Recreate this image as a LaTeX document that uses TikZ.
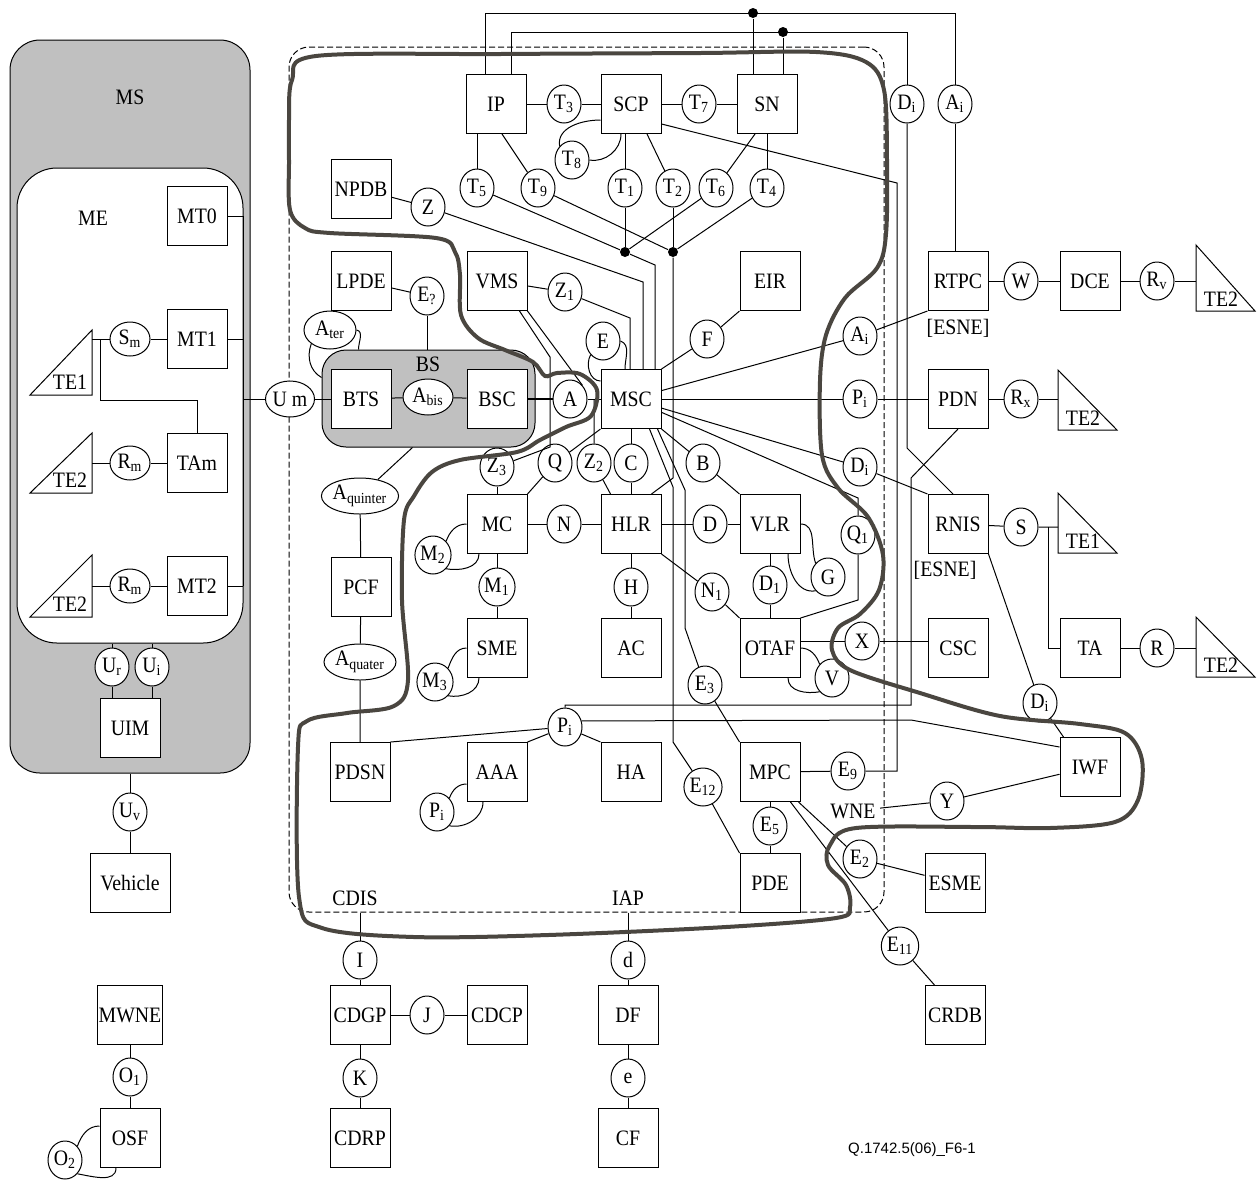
\documentclass[tikz,border=0pt]{standalone}
\usepackage{fontspec}
\setmainfont{Liberation Serif}[FakeStretch=0.9]
\newfontfamily\codefont{Liberation Sans}
\usepackage{tikz}
\usetikzlibrary{positioning, shapes.geometric, calc}
\definecolor{msgray}{HTML}{C0C0C0}
\definecolor{loopdark}{HTML}{4A4640}

\begin{document}
\begin{tikzpicture}[
    x=0.5pt, y=-0.5pt,
    line width=0.5pt,
    every node/.style={font=\fontsize{11}{12}\selectfont},
    grp/.style={draw, rounded corners=#1, inner sep=0pt},
    fe/.style={draw, fill=white, minimum width=30pt, minimum height=29.5pt, inner sep=0.5pt},
    ifc/.style={draw, fill=white, ellipse, minimum width=17pt, minimum height=19pt, inner sep=0pt},
    oval/.style={draw, fill=white, ellipse, minimum height=18pt, inner sep=0pt},
    lbl/.style={inner sep=0pt},
    junction/.style={fill, circle, inner sep=0pt, minimum size=5pt},
    boundary/.style={draw=loopdark, line width=2pt, line join=round},
  ]
  \useasboundingbox (0,0) rectangle (1259,1180);

  % domains
  \node[grp=15pt, fill=msgray, minimum width=120pt, minimum height=366.5pt] (MS) at (130,406.5) {};
  \node[grp=20pt, fill=white, minimum width=113pt, minimum height=237.5pt] (ME) at (130,405.5) {};
  \node[grp=10pt, dashed, dash pattern=on 3pt off 1.5pt, minimum width=297.5pt, minimum height=432.5pt] (core) at (586.5,479.5) {};
  \node[grp=12pt, fill=msgray, minimum width=106.5pt, minimum height=48.5pt] (BS) at (428.5,398.5) {};
  \node[lbl] (msLbl) at (130,97) {MS};
  \node[lbl] (meLbl) at (93,218) {ME};
  \node[lbl] (bsLbl) at (428,364) {BS};

  % mobile station
  \node[fe] (MT0) at (197,216) {MT0};
  \node[fe] (MT1) at (197,339) {MT1};
  \node[fe] (TAm) at (197,463) {TAm};
  \node[fe] (MT2) at (197,586) {MT2};
  \node[ifc, minimum width=20pt, minimum height=17pt] (Sm) at (130,339) {S\textsubscript{m}};
  \node[ifc, minimum width=20pt, minimum height=17pt] (Rm1) at (130,463) {R\textsubscript{m}};
  \node[ifc, minimum width=20pt, minimum height=17pt] (Rm2) at (130,586) {R\textsubscript{m}};
  \draw[fill=white] (30,395) -- (92,395) -- (92,330) -- cycle;
  \node[lbl] (te1mL) at (70,382) {TE1};
  \coordinate (te1m) at (92,339);
  \draw[fill=white] (30,493) -- (92,493) -- (92,433) -- cycle;
  \node[lbl] (te2mL) at (70,480) {TE2};
  \coordinate (te2m) at (92,463);
  \draw[fill=white] (30,617) -- (92,617) -- (92,555) -- cycle;
  \node[lbl] (te2nL) at (70,604) {TE2};
  \coordinate (te2n) at (92,586);
  \node[ifc] (Ur) at (112,667) {U\textsubscript{r}};
  \node[ifc] (Ui) at (152,667) {U\textsubscript{i}};
  \node[fe] (UIM) at (130,728) {UIM};
  \node[oval, minimum width=23pt] (Um) at (290,399) {U m};
  \node[ifc] (Uv) at (130,812) {U\textsubscript{v}};
  \node[fe, minimum width=40pt] (Vehicle) at (130,883) {Vehicle};
  \node[fe] (MWNE) at (130,1015) {MWNE};
  \node[ifc] (O1) at (130,1077) {O\textsubscript{1}};
  \node[fe] (OSF) at (130,1138) {OSF};
  \node[ifc] (O2) at (65,1160) {O\textsubscript{2}};

  % service and intelligent network part
  \node[fe] (IP) at (496,104) {IP};
  \node[ifc] (T3) at (564,104) {T\textsubscript{3}};
  \node[fe] (SCP) at (631,104) {SCP};
  \node[ifc] (T7) at (699,104) {T\textsubscript{7}};
  \node[fe] (SN) at (767,104) {SN};
  \node[ifc] (T8) at (572,160) {T\textsubscript{8}};
  \node[ifc] (T5) at (477,188) {T\textsubscript{5}};
  \node[ifc] (T9) at (538,188) {T\textsubscript{9}};
  \node[ifc] (T1) at (625,188) {T\textsubscript{1}};
  \node[ifc] (T2) at (673,188) {T\textsubscript{2}};
  \node[ifc] (T6) at (716,188) {T\textsubscript{6}};
  \node[ifc] (T4) at (767,188) {T\textsubscript{4}};
  \node[junction] (dotL) at (625,252) {};
  \node[junction] (dotR) at (673,252) {};
  \node[fe] (NPDB) at (361,189) {NPDB};
  \node[ifc] (Z) at (428,207) {Z};

  % radio and switching part
  \node[fe] (LPDE) at (361,281) {LPDE};
  \node[ifc] (Eq) at (427,296) {E\textsubscript{?}};
  \node[fe] (VMS) at (497,281) {VMS};
  \node[ifc] (Z1) at (565,292) {Z\textsubscript{1}};
  \node[fe] (EIR) at (770,281) {EIR};
  \node[oval, minimum width=26pt, minimum height=19pt] (Ater) at (330,330) {A\textsubscript{ter}};
  \node[ifc] (E) at (603,341) {E};
  \node[ifc] (F) at (707,339) {F};
  \node[fe] (BTS) at (361,399) {BTS};
  \node[oval, minimum width=25pt] (Abis) at (428,397) {A\textsubscript{bis}};
  \node[fe] (BSC) at (497,399) {BSC};
  \node[ifc] (A) at (570,399) {A};
  \node[fe] (MSC) at (631,399) {MSC};
  \node[ifc] (Ai2) at (860,336) {A\textsubscript{i}};
  \node[ifc] (Pi1) at (860,399) {P\textsubscript{i}};
  \node[ifc] (Di2) at (860,467) {D\textsubscript{i}};
  \node[oval, minimum width=37pt] (Aquin) at (360,496) {A\textsubscript{quinter}};
  \node[ifc] (Z3) at (497,467) {Z\textsubscript{3}};
  \node[ifc] (Q) at (555,463) {Q};
  \node[ifc] (Z2) at (594,463) {Z\textsubscript{2}};
  \node[ifc] (C) at (631,463) {C};
  \node[ifc] (B) at (703,463) {B};
  \node[fe] (MC) at (497,524) {MC};
  \node[ifc] (N) at (564,524) {N};
  \node[fe] (HLR) at (631,524) {HLR};
  \node[ifc] (D) at (710,524) {D};
  \node[fe] (VLR) at (770,524) {VLR};
  \node[ifc] (M2) at (433,555) {M\textsubscript{2}};
  \node[ifc] (G) at (828,577) {G};
  \node[ifc] (Q1) at (858,535) {Q\textsubscript{1}};
  \node[fe] (PCF) at (361,587) {PCF};
  \node[ifc] (M1) at (497,587) {M\textsubscript{1}};
  \node[ifc] (H) at (631,587) {H};
  \node[ifc] (N1) at (712,592) {N\textsubscript{1}};
  \node[ifc] (D1) at (770,585) {D\textsubscript{1}};
  \node[fe] (SME) at (497,648) {SME};
  \node[fe] (AC) at (631,648) {AC};
  \node[fe] (OTAF) at (770,648) {OTAF};
  \node[ifc] (X) at (862,641) {X};
  \node[ifc] (M3) at (435,682) {M\textsubscript{3}};
  \node[ifc] (V) at (832,678) {V};
  \node[ifc] (E3) at (705,685) {E\textsubscript{3}};
  \node[oval, minimum width=36pt] (Aquat) at (360,662) {A\textsubscript{quater}};
  \node[ifc] (Pi2) at (565,727) {P\textsubscript{i}};
  \node[fe] (PDSN) at (360,772) {PDSN};
  \node[fe] (AAA) at (497,772) {AAA};
  \node[fe] (HA) at (631,772) {HA};
  \node[fe] (MPC) at (770,772) {MPC};
  \node[ifc] (E9) at (848,771) {E\textsubscript{9}};
  \node[ifc] (Pi3) at (437,812) {P\textsubscript{i}};
  \node[ifc] (E12) at (703,787) {E\textsubscript{12}};
  \node[ifc] (E5) at (770,826) {E\textsubscript{5}};
  \node[fe] (PDE) at (770,883) {PDE};
  \node[ifc] (E2) at (860,859) {E\textsubscript{2}};
  \node[lbl, inner sep=2pt] (wneLbl) at (853,811) {WNE};
  \node[ifc] (Y) at (947,801) {Y};
  \node[lbl] (cdisLbl) at (355,898) {CDIS};
  \node[lbl] (iapLbl) at (628,898) {IAP};

  % external networks
  \node[ifc] (Di1) at (907,104) {D\textsubscript{i}};
  \node[ifc] (Ai1) at (955,104) {A\textsubscript{i}};
  \node[fe] (RTPC) at (958,281) {RTPC};
  \node[lbl] (esne1) at (958,328) {[ESNE]};
  \node[ifc] (W) at (1021,281) {W};
  \node[fe] (DCE) at (1090,281) {DCE};
  \node[ifc] (Rv) at (1157,281) {R\textsubscript{v}};
  \draw[fill=white] (1196,245) -- (1196,311) -- (1255,311) -- cycle;
  \node[lbl] (te2aL) at (1221,299) {TE2};
  \coordinate (te2a) at (1196,281);
  \node[fe] (PDN) at (958,399) {PDN};
  \node[ifc] (Rx) at (1021,399) {R\textsubscript{x}};
  \draw[fill=white] (1058,370) -- (1058,430) -- (1117,430) -- cycle;
  \node[lbl] (te2bL) at (1083,418) {TE2};
  \coordinate (te2b) at (1058,399);
  \node[fe] (RNIS) at (958,524) {RNIS};
  \node[lbl] (esne2) at (945,570) {[ESNE]};
  \node[ifc] (S) at (1021,527) {S};
  \draw[fill=white] (1058,493) -- (1058,553) -- (1117,553) -- cycle;
  \node[lbl] (te1rL) at (1083,541) {TE1};
  \coordinate (te1r) at (1058,527);
  \node[fe] (CSC) at (958,648) {CSC};
  \node[fe] (TA) at (1090,648) {TA};
  \node[ifc] (R) at (1157,648) {R};
  \draw[fill=white] (1196,617) -- (1196,677) -- (1255,677) -- cycle;
  \node[lbl] (te2dL) at (1221,665) {TE2};
  \coordinate (te2d) at (1196,648);
  \node[ifc] (Di3) at (1040,703) {D\textsubscript{i}};
  \node[fe] (IWF) at (1090,767) {IWF};
  \node[fe] (ESME) at (955,883) {ESME};
  \node[ifc] (E11) at (900,946) {E\textsubscript{11}};
  \node[fe] (CRDB) at (955,1015) {CRDB};

  % charging and interception
  \node[ifc] (I) at (360,960) {I};
  \node[fe] (CDGP) at (360,1015) {CDGP};
  \node[ifc] (J) at (427,1015) {J};
  \node[fe] (CDCP) at (497,1015) {CDCP};
  \node[ifc] (K) at (360,1078) {K};
  \node[fe] (CDRP) at (360,1138) {CDRP};
  \node[ifc] (d) at (628,960) {d};
  \node[fe] (DF) at (628,1015) {DF};
  \node[ifc] (e) at (628,1078) {e};
  \node[fe] (CF) at (628,1138) {CF};
  \node[lbl, font=\codefont\fontsize{7.5}{9}\selectfont] (figId) at (912,1150) {Q.1742.5(06)\_F6-1};

  % links of the mobile station
  \coordinate (bus) at (243,399);
  \draw (MT0.east) -- (MT0.east -| bus);
  \draw (MT1.east) -- (MT1.east -| bus);
  \draw (MT2.east) -- (MT2.east -| bus);
  \draw (MT0.east -| bus) -- (MT2.east -| bus);
  \draw (bus) -- (Um) -- (BTS);
  \draw (te1m) -- (Sm) -- (MT1);
  \coordinate (tam1) at (100,339);
  \coordinate (tam2) at (100,400);
  \draw (tam1) -- (tam2) -| (TAm);
  \draw (te2m) -- (Rm1) -- (TAm);
  \draw (te2n) -- (Rm2) -- (MT2);
  \draw (ME.south -| Ur) -- (Ur) -- (Ur |- UIM.north);
  \draw (ME.south -| Ui) -- (Ui) -- (Ui |- UIM.north);
  \draw (MS.south) -- (Uv) -- (Vehicle);
  \draw (MWNE) -- (O1) -- (OSF);
  \draw ([yshift=6pt]OSF.west) to[out=180,in=70] (O2.north east);
  \draw (O2.south east) to[out=-10,in=-90] ([xshift=-7pt]OSF.south);

  % links of the intelligent network
  \coordinate (top1) at (955,13);
  \coordinate (top2) at (907,32);
  \node[junction] (dot1) at (753,13) {};
  \node[junction] (dot2) at (783,32) {};
  \draw ([xshift=-5.5pt]IP.north) |- (top1) -- (Ai1);
  \draw ([xshift=7.5pt]IP.north) |- (top2) -- (Di1);
  \draw (dot1) -- (dot1 |- SN.north);
  \draw (dot2) -- (dot2 |- SN.north);
  \draw (Ai1) -- (Ai1 |- RTPC.north);
  \coordinate (di1b) at (907,448);
  \draw (Di1) -- (di1b) -- ([xshift=-2.5pt]RNIS.north);
  \draw (IP) -- (T3) -- (SCP) -- (T7) -- (SN);
  \draw ([yshift=7pt]SCP.south west) to[out=180,in=100] (T8.north west);
  \draw (T8.east) to[out=-10,in=-90] ([xshift=-5pt]SCP.south);
  \draw (IP.south -| T5) -- (T5);
  \draw ([xshift=3pt]IP.south) -- (T9);
  \draw (SCP.south -| T1) -- (T1);
  \draw ([xshift=8pt]SCP.south) -- (T2);
  \draw ([xshift=-6pt]SN.south) -- (T6);
  \draw (SN) -- (T4);
  \draw (T1) -- (dotL);
  \draw (T6) -- (dotL);
  \draw (T2) -- (dotR);
  \draw (T4) -- (dotR);
  \draw (T9) -- (dotR);
  \coordinate (msc5) at (655,265);
  \draw (T5) -- (dotL) -- (msc5) -- (msc5 |- MSC.north);
  \coordinate (hlrT) at (673,478);
  \draw (dotR) -- (hlrT) -- ([xshift=-5pt]HLR.north east);
  \coordinate (scpR) at (897,183);
  \coordinate (scpB) at (897,771);
  \draw ([yshift=5pt]SCP.south east) -- (scpR) -- (scpB) -- (E9) -- (MPC);
  \draw (NPDB) -- (Z);
  \coordinate (mscZ) at (643,282);
  \draw (Z) -- (mscZ) -- (mscZ |- MSC.north);

  % links of the switching part
  \draw (VMS) -- (Z1);
  \coordinate (mscZ1) at (630,318);
  \draw (Z1) -- (mscZ1) -- (mscZ1 |- MSC.north);
  \coordinate (vmsA) at (550,357);
  \coordinate (vmsB) at (550,447);
  \draw ([xshift=-4pt]VMS.south east) -- (vmsA) -- (vmsB) -- (Z3);
  \draw (VMS.south east) -- (A.north east);
  \draw (LPDE) -- (Eq);
  \draw (Eq) -- (Eq |- BS.north);
  \draw (Ater.south west) to[out=-110,in=150] ([yshift=-14pt]BS.north west);
  \draw (Ater.east) to[out=-10,in=90] ([xshift=-35pt]BS.north);
  \draw (BTS) -- (Abis) -- (BSC);
  \draw[line width=1pt] (BSC) -- (A);
  \draw (A) -- (MSC);
  \draw ([xshift=-8pt]BS.south) -- (Aquin) -- (PCF) -- (Aquat) -- (PDSN);
  \draw (E.south west) to[out=-120,in=180] ([yshift=-6pt]MSC.north west);
  \draw (E.east) to[out=-20,in=90] ([xshift=-3pt]MSC.north);
  \draw (MSC.north east) -- (F) -- (EIR.south west);
  \draw (MSC) -- (Ai2) -- (RTPC.south west);
  \draw (MSC) -- (Pi1) -- (PDN);
  \draw (MSC) -- (Di2) -- (RNIS.north west);
  \coordinate (q1t) at (858,498);
  \coordinate (q1b) at (858,600);
  \draw (MSC) -- (q1t) -- (Q1) -- (q1b) -- (OTAF.north east);
  \draw (MSC.south east) -- (B) -- (VLR.north west);
  \draw (MSC) -- (C) -- (HLR);
  \coordinate (z2t) at (594,399);
  \draw (z2t) -- (Z2) -- ([xshift=5pt]HLR.north west);
  \draw (MSC.south west) -- (Q) -- (MC.north east);
  \draw (Z3) -- (MC);
  \coordinate (e3a) at (685,490);
  \coordinate (e3b) at (685,628);
  \draw ([xshift=-2pt]MSC.south east) -- (e3a) -- (e3b) -- (E3) -- (MPC.north west);
  \coordinate (e12a) at (673,487);
  \coordinate (e12b) at (673,742);
  \draw ([xshift=-6pt]MSC.south east) -- (e12a) -- (e12b) -- (E12) -- (PDE.north west);
  \draw (MC) -- (N) -- (HLR) -- (D) -- (VLR);
  \draw (MC.west) to[out=180,in=70] (M2.north east);
  \draw (M2.south east) to[out=-10,in=-90] ([xshift=-9pt]MC.south);
  \draw (MC) -- (M1) -- (SME);
  \draw (SME.west) to[out=180,in=70] (M3.north east);
  \draw (M3.south east) to[out=-10,in=-90] ([xshift=-9pt]SME.south);
  \draw (HLR) -- (H) -- (AC);
  \draw (HLR.south east) -- (N1) -- (OTAF.north west);
  \draw (VLR) -- (D1) -- (OTAF);
  \draw (VLR.east) to[out=0,in=110] (G.north west);
  \draw (G.south west) to[out=190,in=-90] ([xshift=9pt]VLR.south);
  \draw (OTAF.east) to[out=0,in=110] (V.north west);
  \draw (V.south west) to[out=190,in=-90] ([xshift=9pt]OTAF.south);
  \draw (OTAF.east |- X) -- (X) -- (X -| CSC.west);

  % links of the packet part
  \coordinate (pdnA) at (565,705);
  \coordinate (pdnB) at (911,705);
  \coordinate (pdnC) at (911,478);
  \draw (Pi2) -- (pdnA) -- (pdnB) -- (pdnC) -- (PDN.south);
  \coordinate (iwfA) at (911,720);
  \draw (Pi2.20) -- (iwfA) -- ([yshift=-5pt]IWF.north west);
  \draw (PDSN.north east) -- (Pi2) -- (AAA.north east);
  \draw (Pi2) -- (HA.north west);
  \draw ([yshift=-6pt]AAA.west) to[out=180,in=70] (Pi3.north east);
  \draw (Pi3.south east) to[out=-10,in=-90] ([xshift=-7pt]AAA.south);
  \draw (MPC) -- (E5) -- (PDE);
  \draw ([xshift=-1pt]MPC.south east) -- (E2) -- (ESME);
  \draw ([xshift=-5pt]MPC.south east) -- (E11) -- ([xshift=5pt]CRDB.north west);
  \draw (wneLbl) -- (Y) -- (IWF);
  \draw (RNIS.south east) -- (Di3) -- ([xshift=2pt]IWF.north west);

  % links to external networks
  \draw (RTPC) -- (W) -- (DCE) -- (Rv) -- (te2a);
  \draw (PDN) -- (Rx) -- (te2b);
  \draw (RNIS) -- (S) -- (te1r);
  \coordinate (sbr) at (1048,527);
  \draw (sbr) |- (TA);
  \draw (TA) -- (R) -- (te2d);

  % charging and interception links
  \draw (core.south -| I) -- (I) -- (CDGP) -- (K) -- (CDRP);
  \draw (CDGP) -- (J) -- (CDCP);
  \draw (core.south -| d) -- (d) -- (DF) -- (e) -- (CF);

  % boundary of the network
  \draw[boundary] plot[smooth cycle, tension=0.55] coordinates {
    (289,120) (292,80) (316,56) (500,54) (700,53) (816,52) (866,62) (884,90)
    (887,160) (886,234) (877,268) (845,298) (826,335) (820,381) (822,455)
    (838,488) (868,517) (883,555) (879,590) (860,614) (838,628) (832,650)
    (850,670) (920,693) (1000,716) (1080,724) (1125,733) (1142,760)
    (1138,800) (1115,822) (1050,828) (976,827) (856,828) (830,845) (828,865)
    (846,885) (850,907) (836,918) (726,927) (548,935) (414,937) (322,928)
    (299,897) (298,747) (307,721) (347,713) (394,706) (408,680) (402,600)
    (404,520) (414,496) (432,472) (460,460) (517,452) (540,440) (566,427)
    (591,416) (597,390) (580,374) (557,373) (545,376) (533,362) (505,350)
    (478,338) (461,315) (460,275) (455,252) (436,238) (330,233) (305,228)
    (290,210) (289,160)};
\end{tikzpicture}
\end{document}
